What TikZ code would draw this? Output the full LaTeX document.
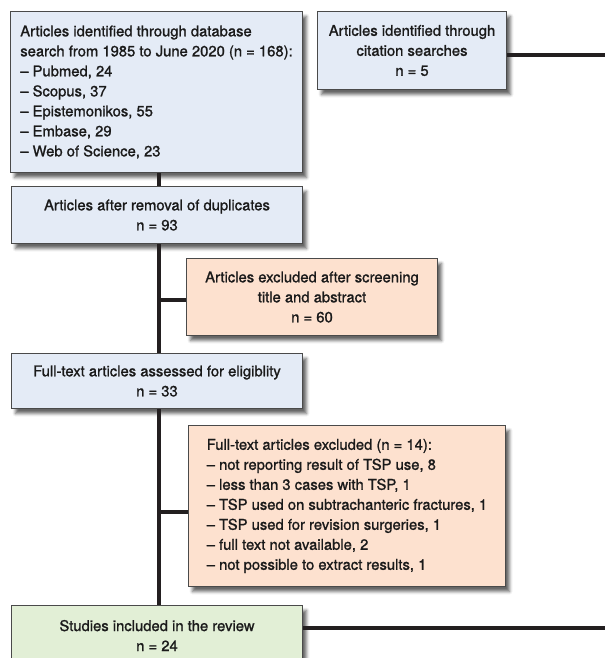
\documentclass[tikz,border=0pt]{standalone}
\usepackage{fontspec}
\setmainfont{TeX Gyre Heros}[FakeBold=1.2]
\usetikzlibrary{shadows.blur,calc}
\definecolor{bluefill}{HTML}{E4EBF6}
\definecolor{orangefill}{HTML}{FDE1CF}
\definecolor{greenfill}{HTML}{E2EFD6}
\definecolor{boxline}{HTML}{4A4A4A}
\definecolor{conn}{HTML}{231F20}
\definecolor{txt}{HTML}{1A1A1A}
\begin{document}
\begin{tikzpicture}[x=1pt,y=1pt,
  box/.style={draw=boxline, line width=1pt, rectangle, anchor=north west,
    inner ysep=0pt, inner xsep=6pt, font=\fontsize{14.8}{20}\selectfont, text=txt,
    blur shadow={shadow xshift=4pt, shadow yshift=-5pt, shadow blur radius=3pt, shadow opacity=60}},
  bluebox/.style={box, fill=bluefill},
  orangebox/.style={box, fill=orangefill},
  greenbox/.style={box, fill=greenfill},
  cbox/.style={align=center},
  lbox/.style={align=left},
  link/.style={draw=conn, line width=3.2pt}
]
\useasboundingbox (0,0) rectangle (605,-658);

\node[bluebox, lbox, minimum width=292pt, minimum height=161pt] (A) at (10,-11)
 {Articles identified through database\\ search from 1985 to June 2020 (n = 168):\\
 – Pubmed, 24\\
 – Scopus, 37\\
 – Epistemonikos, 55\\
 – Embase, 29\\
 – Web of Science, 23};

\node[bluebox, cbox, minimum width=189pt, minimum height=78pt] (B) at (317,-11)
 {Articles identified through\\ citation searches\\ n = 5};

\node[bluebox, cbox, minimum width=291pt, minimum height=57pt] (C) at (11,-186)
 {Articles after removal of duplicates\\ n = 93};

\node[orangebox, cbox, minimum width=251pt, minimum height=77pt] (D) at (186,-258)
 {Articles excluded after screening\\ title and abstract\\ n = 60};

\node[bluebox, cbox, minimum width=291pt, minimum height=55pt] (E) at (11,-353)
 {Full-text articles assessed for eligiblity\\ n = 33};

\node[orangebox, lbox, minimum width=317pt, minimum height=161pt] (F) at (188,-425)
 {Full-text articles excluded (n = 14):\\
 – not reporting result of TSP use, 8\\
 – less than 3 cases with TSP, 1\\
 – TSP used on subtrachanteric fractures, 1\\
 – TSP used for revision surgeries, 1\\
 – full text not available, 2\\
 – not possible to extract results, 1};

\node[greenbox, cbox, minimum width=291pt, minimum height=60pt] (G) at (11,-605)
 {Studies included in the review\\ n = 24};

\coordinate (sp) at (159,0);
\coordinate (Bout) at (605,-55);
\coordinate (Gout) at (605,-628);
\coordinate (Fjoin) at (0,-512);
\coordinate (Djoin) at (0,-300);

\draw[link] (A.south -| sp) -- (C.north -| sp);
\draw[link] (C.south -| sp) -- (E.north -| sp);
\draw[link] (E.south -| sp) -- (G.north -| sp);
\draw[link] (Djoin -| sp) -- (Djoin -| D.west);
\draw[link] (Fjoin -| sp) -- (Fjoin -| F.west);
\draw[link] (Bout -| B.east) -- (Bout);
\draw[link] (Gout -| G.east) -- (Gout);
\end{tikzpicture}
\end{document}
